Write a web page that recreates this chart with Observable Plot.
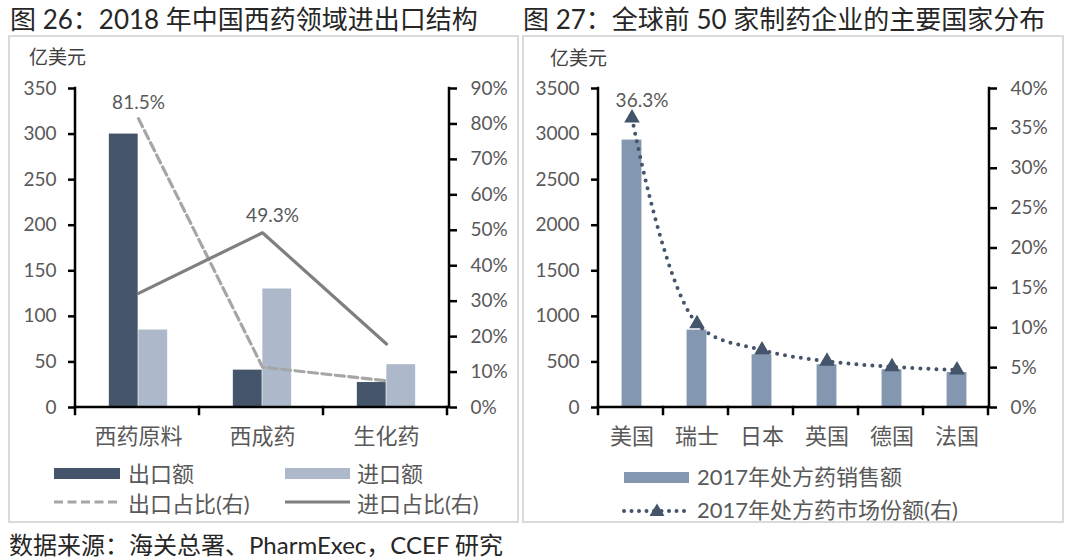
<!DOCTYPE html>
<html><head><meta charset="utf-8">
<script src="https://cdn.jsdelivr.net/npm/d3@7"></script>
<script src="https://cdn.jsdelivr.net/npm/@observablehq/plot@0.6"></script>
<style>
body{margin:0;background:#fff;}
#page{position:relative;width:1080px;height:559px;overflow:hidden;font-family:Lato,"Noto Sans CJK SC",sans-serif;color:#595959;background:#fff;}
.abs{position:absolute;white-space:nowrap;}
.panel{position:absolute;border:2px solid #dadada;box-sizing:border-box;}
.title{font-size:26px;line-height:30px;color:#262626;}
.lg{font-size:22px;line-height:24px;color:#595959;}
.unit{font-size:19px;line-height:22px;color:#404040;}
.src{font-size:24px;line-height:28px;color:#262626;}
svg.layer{position:absolute;left:0;top:0;pointer-events:none;}
</style></head>
<body><div id="page"></div>
<script>
// ---- Figure 26 data ----
const tradeCats = ["西药原料", "西成药", "生化药"];
const exportVals = [300, 41, 27.4];
const importVals = [85, 130, 47];
const exportShare = [81.5, 11.4, 7.5];
const importShare = [32.2, 49.3, 17.9];
const tradeTicks = [0, 50, 100, 150, 200, 250, 300, 350];
const tradePctTicks = [0, 10, 20, 30, 40, 50, 60, 70, 80, 90];
const tradeLegend = ["出口额", "进口额", "出口占比(右)", "进口占比(右)"];

// ---- Figure 27 data ----
const countries = ["美国", "瑞士", "日本", "英国", "德国", "法国"];
const sales = [2934, 849, 579, 469, 414, 384];
const share = [36.3, 10.5, 7.2, 5.8, 5.1, 4.7];
const salesTicks = [0, 500, 1000, 1500, 2000, 2500, 3000, 3500];
const sharePctTicks = [0, 5, 10, 15, 20, 25, 30, 35, 40];
const pharmaLegend = ["2017年处方药销售额", "2017年处方药市场份额(右)"];

const titles = ["图 26：2018 年中国西药领域进出口结构", "图 27：全球前 50 家制药企业的主要国家分布"];
const unitLabel = "亿美元";
const sourceText = "数据来源：海关总署、PharmExec，CCEF 研究";

const C = {dark:"#44546a", light:"#adb9ca", mid:"#8497b0", dash:"#a6a6a6", solid:"#7f7f7f", tick:"#595959"};
const FONT = 'Lato, "Noto Sans CJK SC", sans-serif';
const W = 1080, H = 559;
const page = document.getElementById("page");

function addDiv(cls, text, left, top, extra) {
  const d = document.createElement("div");
  d.className = "abs " + cls; d.textContent = text;
  d.style.left = left + "px"; d.style.top = top + "px";
  if (extra) Object.assign(d.style, extra);
  page.append(d); return d;
}
function layer(opts) {
  const p = Plot.plot(Object.assign({width: W, height: H,
    style: {fontFamily: FONT, background: "transparent", overflow: "visible"}}, opts));
  p.classList.add("layer");
  page.append(p);
  return p;
}
function axisLines(p, {left = false, right = false, bottom = false}) {
  const sx = p.scale("x"), sy = p.scale("y");
  const [x0, x1] = sx.range, [yb, yt] = sy.range;
  const g = d3.select(p).append("g").attr("stroke", "#000").attr("stroke-width", 2.5).attr("stroke-linecap", "square");
  if (left) g.append("line").attr("x1", x0).attr("x2", x0).attr("y1", yb).attr("y2", yt);
  if (right) g.append("line").attr("x1", x1).attr("x2", x1).attr("y1", yb).attr("y2", yt);
  if (bottom) {
    g.append("line").attr("x1", x0).attr("x2", x1).attr("y1", yb).attr("y2", yb);
    for (let i = 0; i <= sx.domain.length; i++) {
      const x = x0 + i * sx.step;
      g.append("line").attr("x1", x).attr("x2", x).attr("y1", yb).attr("y2", yb + 7);
    }
  }
}

// panels
const p1 = document.createElement("div"); p1.className = "panel";
Object.assign(p1.style, {left: "8px", top: "35px", width: "511px", height: "488px"}); page.append(p1);
const p2 = document.createElement("div"); p2.className = "panel";
Object.assign(p2.style, {left: "522px", top: "35px", width: "542px", height: "488px"}); page.append(p2);

addDiv("title", titles[0], 10, 4);
addDiv("title", titles[1], 523, 4);
addDiv("unit", unitLabel, 29, 46);
addDiv("unit", unitLabel, 550, 47);
addDiv("src", sourceText, 9, 531);

// ---------- Figure 26 ----------
const L = {left: 75, right: 449, top: 88, bottom: 407};
const bw1 = (L.right - L.left) / tradeCats.length, barW1 = 29.5;
const expRows = tradeCats.map((c, i) => ({c, v: exportVals[i]}));
const impRows = tradeCats.map((c, i) => ({c, v: importVals[i]}));
const fig1 = {marginLeft: L.left, marginRight: W - L.right, marginTop: L.top, marginBottom: H - L.bottom};

const a1 = layer({...fig1,
  x: {type: "band", domain: tradeCats, padding: 0, axis: null},
  y: {domain: [0, 350], axis: null},
  marks: [
    Plot.barY(expRows, {x: "c", y: "v", fill: C.dark, insetLeft: bw1 / 2 - barW1, insetRight: bw1 / 2}),
    Plot.barY(impRows, {x: "c", y: "v", fill: C.light, insetLeft: bw1 / 2, insetRight: bw1 / 2 - barW1}),
    Plot.axisY(tradeTicks, {anchor: "left", tickSize: 7, tickPadding: 12, stroke: "#000", strokeWidth: 2.5, fill: C.tick, fontSize: 19, tickFormat: d => String(d), label: null}),
    Plot.axisX({tickSize: 0, tickPadding: 21, fill: C.tick, fontSize: 22, label: null})
  ]
});
axisLines(a1, {left: true, bottom: true});

const esRows = tradeCats.map((c, i) => ({c, v: exportShare[i]}));
const isRows = tradeCats.map((c, i) => ({c, v: importShare[i]}));
const b1 = layer({...fig1,
  x: {type: "band", domain: tradeCats, padding: 0, axis: null},
  y: {domain: [0, 90], axis: null},
  marks: [
    Plot.line(esRows, {x: "c", y: "v", stroke: C.dash, strokeWidth: 3.2, strokeDasharray: "9 4.5"}),
    Plot.line(isRows, {x: "c", y: "v", stroke: C.solid, strokeWidth: 3.2}),
    Plot.text([esRows[0]], {x: "c", y: "v", text: d => d.v.toFixed(1) + "%", dy: -16, fontSize: 19, fill: C.tick}),
    Plot.text([isRows[1]], {x: "c", y: "v", text: d => d.v.toFixed(1) + "%", dy: -17, dx: 10, fontSize: 19, fill: C.tick}),
    Plot.axisY(tradePctTicks, {anchor: "right", tickSize: 7, tickPadding: 14, stroke: "#000", strokeWidth: 2.5, fill: C.tick, fontSize: 19, tickFormat: d => d + "%", label: null})
  ]
});
axisLines(b1, {right: true});

// legend fig 26
function legendSvg(left, top, w, h, inner) {
  const ns = "http://www.w3.org/2000/svg";
  const s = document.createElementNS(ns, "svg");
  s.setAttribute("width", w); s.setAttribute("height", h);
  s.style.position = "absolute"; s.style.left = left + "px"; s.style.top = top + "px";
  s.innerHTML = inner; page.append(s); return s;
}
legendSvg(54, 468, 66, 11, `<rect width="66" height="11" fill="${C.dark}"/>`);
addDiv("lg", tradeLegend[0], 128, 462);
legendSvg(285, 468, 65, 11, `<rect width="65" height="11" fill="${C.light}"/>`);
addDiv("lg", tradeLegend[1], 357, 462);
legendSvg(54, 498, 66, 8, `<line x1="0" x2="66" y1="4" y2="4" stroke="${C.dash}" stroke-width="3.2" stroke-dasharray="9 4.5"/>`);
addDiv("lg", tradeLegend[2], 128, 492);
legendSvg(285, 498, 65, 8, `<line x1="0" x2="65" y1="4" y2="4" stroke="${C.solid}" stroke-width="3.2"/>`);
addDiv("lg", tradeLegend[3], 357, 492);

// ---------- Figure 27 ----------
const R = {left: 598, right: 989, top: 88, bottom: 407};
const bw2 = (R.right - R.left) / countries.length, barW2 = 20;
const salesRows = countries.map((c, i) => ({c, v: sales[i]}));
const shareRows = countries.map((c, i) => ({c, v: share[i]}));
const fig2 = {marginLeft: R.left, marginRight: W - R.right, marginTop: R.top, marginBottom: H - R.bottom};

const a2 = layer({...fig2,
  x: {type: "band", domain: countries, padding: 0, axis: null},
  y: {domain: [0, 3500], axis: null},
  marks: [
    Plot.barY(salesRows, {x: "c", y: "v", fill: C.mid, insetLeft: (bw2 - barW2) / 2, insetRight: (bw2 - barW2) / 2}),
    Plot.axisY(salesTicks, {anchor: "left", tickSize: 7, tickPadding: 12, stroke: "#000", strokeWidth: 2.5, fill: C.tick, fontSize: 19, tickFormat: d => String(d), label: null}),
    Plot.axisX({tickSize: 0, tickPadding: 21, fill: C.tick, fontSize: 22, label: null})
  ]
});
axisLines(a2, {left: true, bottom: true});

const b2 = layer({...fig2,
  x: {type: "band", domain: countries, padding: 0, axis: null},
  y: {domain: [0, 40], axis: null},
  marks: [
    Plot.line(shareRows, {x: "c", y: "v", curve: "catmull-rom", stroke: C.dark, strokeWidth: 4, strokeDasharray: "0 8", strokeLinecap: "round"}),
    Plot.dot(shareRows, {x: "c", y: "v", symbol: "triangle", r: 5.8, fill: C.dark, stroke: "none"}),
    Plot.text([shareRows[0]], {x: "c", y: "v", text: d => d.v.toFixed(1) + "%", dy: -17, dx: 10, fontSize: 19, fill: C.tick}),
    Plot.axisY(sharePctTicks, {anchor: "right", tickSize: 7, tickPadding: 14, stroke: "#000", strokeWidth: 2.5, fill: C.tick, fontSize: 19, tickFormat: d => d + "%", label: null})
  ]
});
axisLines(b2, {right: true});

// legend fig 27
legendSvg(624, 472, 65, 11, `<rect width="65" height="11" fill="${C.mid}"/>`);
addDiv("lg", pharmaLegend[0], 697, 465);
legendSvg(621, 502, 70, 16, `<line x1="3" x2="68" y1="9" y2="9" stroke="${C.dark}" stroke-width="4" stroke-dasharray="0 7.5" stroke-linecap="round"/><path d="M36,1.5 L43.5,14 L28.5,14 Z" fill="${C.dark}"/>`);
addDiv("lg", pharmaLegend[1], 697, 498);
</script>
</body></html>
